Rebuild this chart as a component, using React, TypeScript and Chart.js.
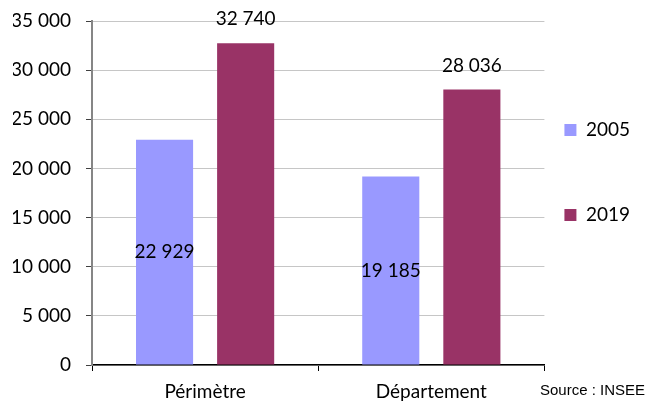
import { useEffect, useRef } from 'react';
import { Chart, registerables } from 'chart.js';

Chart.register(...registerables);

const categories = ['Périmètre', 'Département'];
const seriesLabels = ['2005', '2019'];
const values2005 = [22929, 19185];
const values2019 = [32740, 28036];
const yMin = 0;
const yMax = 35000;
const yStep = 5000;
const sourceText = 'Source : INSEE';

const COLOR_2005 = '#9999FF';
const COLOR_2019 = '#993366';
const FONT = 'Lato, "Open Sans", sans-serif';

function fmt(v: number): string {
  return String(Math.round(v)).replace(/\B(?=(\d{3})+(?!\d))/g, ' ');
}

const labelsPlugin = {
  id: 'valueLabels',
  afterDatasetsDraw(chart: any) {
    const ctx = chart.ctx;
    ctx.save();
    ctx.font = `19px ${FONT}`;
    ctx.fillStyle = '#000';
    ctx.textAlign = 'center';
    ctx.textBaseline = 'middle';
    chart.data.datasets.forEach((ds: any, di: number) => {
      const meta = chart.getDatasetMeta(di);
      meta.data.forEach((el: any, i: number) => {
        const v = ds.data[i] as number;
        const { x, y, base } = el.getProps(['x', 'y', 'base'], true);
        if (di === 0) {
          ctx.fillText(fmt(v), x, (y + base) / 2);
        } else {
          ctx.fillText(fmt(v), x, y - 24);
        }
      });
    });
    ctx.restore();
  },
  afterDraw(chart: any) {
    const ctx = chart.ctx;
    ctx.save();
    ctx.font = `15px "Liberation Sans", Arial, sans-serif`;
    ctx.fillStyle = '#000';
    ctx.textAlign = 'right';
    ctx.textBaseline = 'alphabetic';
    ctx.fillText(sourceText, chart.width - 4, chart.height - 7);
    ctx.restore();
  },
};

export default function App() {
  const ref = useRef<HTMLCanvasElement | null>(null);

  useEffect(() => {
    if (!ref.current) return;
    const chart = new Chart(ref.current, {
      type: 'bar',
      data: {
        labels: categories,
        datasets: [
          {
            label: seriesLabels[0],
            data: values2005,
            backgroundColor: COLOR_2005,
            categoryPercentage: 0.717,
            barPercentage: 0.704,
          },
          {
            label: seriesLabels[1],
            data: values2019,
            backgroundColor: COLOR_2019,
            categoryPercentage: 0.717,
            barPercentage: 0.704,
          },
        ],
      },
      options: {
        animation: false,
        responsive: true,
        maintainAspectRatio: false,
        layout: { padding: { top: 6, left: 13, right: 9, bottom: 0 } },
        scales: {
          x: {
            afterFit: (s: any) => { s.height = 37; },
            grid: {
              display: true,
              drawOnChartArea: false,
              drawTicks: true,
              tickLength: 6,
              tickColor: '#000',
              offset: true,
            },
            border: { display: true, color: '#000', width: 1.5 },
            ticks: {
              color: '#000',
              padding: 11,
              font: { family: FONT, size: 19, lineHeight: 1 },
            },
          },
          y: {
            min: yMin,
            max: yMax,
            afterFit: (s: any) => { s.width = 79; },
            grid: {
              color: '#c6c6c6',
              lineWidth: 1,
              tickLength: 6,
              tickColor: '#404040',
            },
            border: { display: true, color: '#868686', width: 2 },
            ticks: {
              stepSize: yStep,
              color: '#000',
              padding: 15,
              font: { family: FONT, size: 19, lineHeight: '12px' },
              callback: (v: any) => fmt(Number(v)),
            },
          },
        },
        plugins: {
          tooltip: { enabled: false },
          legend: {
            position: 'right',
            align: 'start',
            fullSize: false,
            title: {
              display: true,
              text: '',
              font: { size: 10, lineHeight: 1 },
              padding: { top: 69.5, bottom: 0 },
            },
            labels: {
              color: '#000',
              boxWidth: 12,
              boxHeight: 12,
              padding: 20,
              font: { family: FONT, size: 19, lineHeight: '65px' },
              generateLabels: (c: any) => {
                const items = Chart.defaults.plugins.legend.labels.generateLabels(c);
                return items.map((it: any) => ({ ...it, text: [it.text], lineWidth: 0 }));
              },
            },
          },
        },
      },
      plugins: [labelsPlugin],
    } as any);
    return () => chart.destroy();
  }, []);

  return (
    <div style={{ position: 'absolute', left: 0, top: 0, width: 649, height: 402 }}>
      <canvas ref={ref} />
    </div>
  );
}
